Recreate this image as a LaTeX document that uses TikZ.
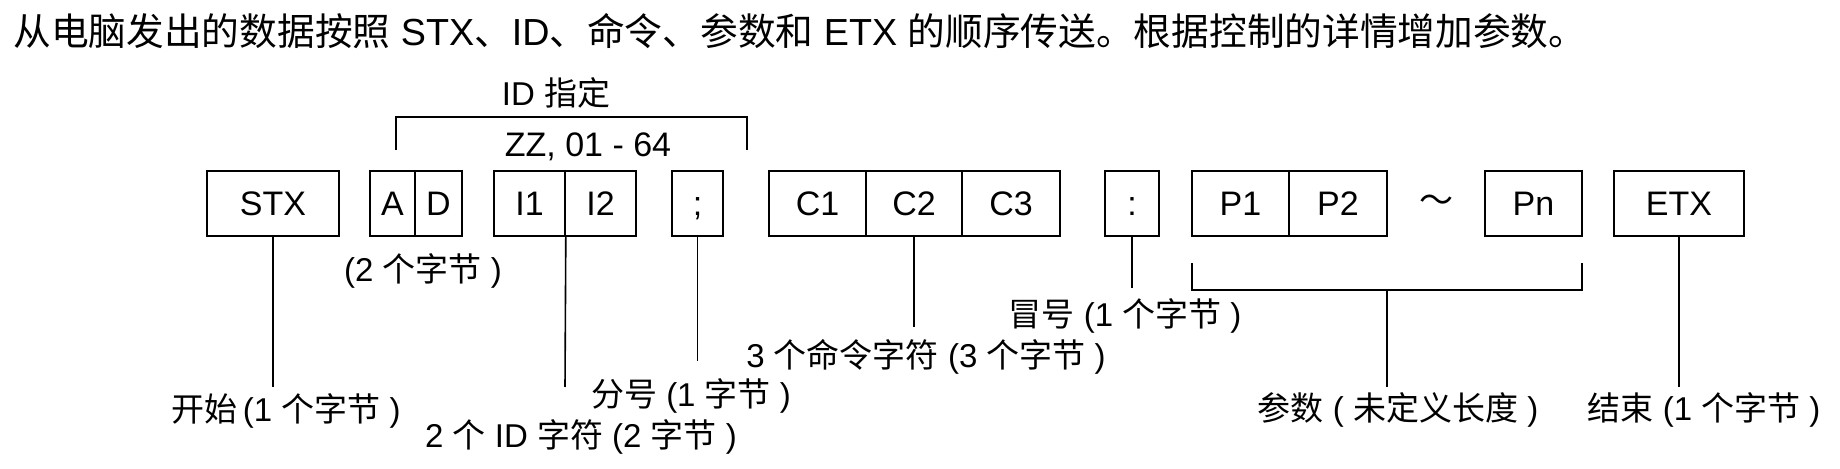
\documentclass[tikz,border=0pt]{standalone}
\usepackage{fontspec}
\setmainfont{Liberation Sans}
\newfontfamily\cjk{Noto Sans CJK SC}
\tikzset{fld/.style={draw, line width=0.8pt, minimum height=32.5pt, inner sep=0pt,
   text height=12.3pt, text depth=0pt, font=\fontsize{17}{17}\selectfont},
 lbl/.style={inner sep=0pt, font=\fontsize{16.5}{17}\selectfont},
 wire/.style={line width=0.8pt},
 }
\newcommand{\zh}[1]{{\cjk #1}}

\begin{document}
\begin{tikzpicture}[x=0.5pt,y=-0.5pt]
        \useasboundingbox (0,0) rectangle (1840,469);
        \node[lbl, anchor=west, font=\fontsize{18.85}{20}\selectfont] (title) at (13,31)
          {\zh{从电脑发出的数据按照} STX\zh{、}ID\zh{、命令、参数和} ETX \zh{的顺序传送。根据控制的详情增加参数。}};
        % the fields
        \node[fld, minimum width=66pt] (stx) at (273,203.5) {STX};
        \node[fld, minimum width=22.5pt] (a) at (392.5,203.5) {A};
        \node[fld, minimum width=23.5pt] (d) at (438.5,203.5) {D};
        \node[fld, minimum width=35.5pt] (i1) at (529.5,203.5) {I1};
        \node[fld, minimum width=35.5pt] (i2) at (600.5,203.5) {I2};
        \node[fld, minimum width=25.5pt] (semi) at (697.5,203.5) {;};
        \node[fld, minimum width=48.5pt] (c1) at (817.5,203.5) {C1};
        \node[fld, minimum width=48pt] (c2) at (914,203.5) {C2};
        \node[fld, minimum width=49pt] (c3) at (1011,203.5) {C3};
        \node[fld, minimum width=27pt] (colon) at (1132,203.5) {:};
        \node[fld, minimum width=48.5pt] (p1) at (1240.5,203.5) {P1};
        \node[fld, minimum width=49pt] (p2) at (1338,203.5) {P2};
        \node[lbl, font=\fontsize{17}{17}\selectfont] (tilde) at (1436,203.5) {\zh{～}};
        \node[fld, minimum width=48.5pt] (pn) at (1533.5,203.5) {Pn};
        \node[fld, minimum width=65pt] (etx) at (1679,203.5) {ETX};
        % ID bracket
        \node[lbl] (idname) at (556,93) {ID \zh{指定}};
        \node[lbl, font=\fontsize{17}{17}\selectfont] (idrange) at (588,147) {ZZ, 01 - 64};
        \coordinate (idl) at (396,150);
        \coordinate (idr) at (747,150);
        \draw[wire] (idl) -- ++(0,-33) -| (idr);
        % parameter bracket
        \coordinate (pl) at (1192,263);
        \coordinate (pr) at (1582,263);
        \draw[wire] (pl) -- ++(0,27) -| (pr);
        \coordinate (pmid) at (1387,290);
        % drop lines
        \coordinate (stxend) at (273,387);
        \coordinate (idend) at (565,387);
        \coordinate (semiend) at (697.5,361);
        \coordinate (cmdend) at (914,327);
        \coordinate (colonend) at (1132,288);
        \coordinate (parend) at (1387,387);
        \coordinate (etxend) at (1679,387);
        \draw[wire] (stx.south) -- (stxend);
        \draw[wire] (i1.south east) -- (idend);
        \draw[wire] (semi.south) -- (semiend);
        \draw[wire] (c2.south) -- (cmdend);
        \draw[wire] (colon.south) -- (colonend);
        \draw[wire] (pmid) -- (parend);
        \draw[wire] (etx.south) -- (etxend);
        % labels
        \node[lbl] (adlbl) at (423,271) {(2 \zh{个字节} )};
        \node[lbl] (stxlbl) at (286,411) {\zh{开始}\,(1 \zh{个字节} )};
        \node[lbl] (idlbl) at (581,437) {2 \zh{个} ID \zh{字符} (2 \zh{字节} )};
        \node[lbl] (semilbl) at (691,396) {\zh{分号} (1 \zh{字节} )};
        \node[lbl] (cmdlbl) at (926,357) {3 \zh{个命令字符} (3 \zh{个字节} )};
        \node[lbl] (colonlbl) at (1125,316) {\zh{冒号} (1 \zh{个字节} )};
        \node[lbl] (parlbl) at (1398,410) {\zh{参数} ( \zh{未定义长度} )};
        \node[lbl] (etxlbl) at (1704,410) {\zh{结束} (1 \zh{个字节} )};
    \end{tikzpicture}
\end{document}
